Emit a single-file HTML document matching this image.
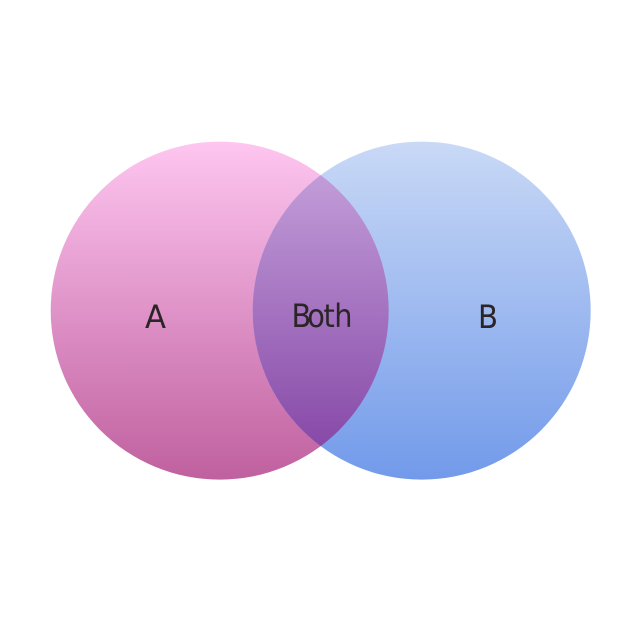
<!DOCTYPE html>
<html>
<head>
<meta charset="utf-8">
<style>
html,body{margin:0;padding:0;background:#fff;width:640px;height:620px;overflow:hidden}
svg{display:block}
text{font-family:"DejaVu Sans",sans-serif;font-size:32px;fill:#2b2528}
</style>
</head>
<body>
<svg width="640" height="620" viewBox="0 0 640 620" xmlns="http://www.w3.org/2000/svg">
<defs>
<linearGradient id="a" x1="0" y1="142" x2="0" y2="480" gradientUnits="userSpaceOnUse">
<stop offset="0" stop-color="#fec6f0"/><stop offset="1" stop-color="#c0609f"/>
</linearGradient>
<linearGradient id="b" x1="0" y1="142" x2="0" y2="480" gradientUnits="userSpaceOnUse">
<stop offset="0" stop-color="#c9d9f6"/><stop offset="1" stop-color="#729aea"/>
</linearGradient>
<linearGradient id="c" x1="0" y1="175" x2="0" y2="445" gradientUnits="userSpaceOnUse">
<stop offset="0" stop-color="#c29cd8"/><stop offset="1" stop-color="#874aa8"/>
</linearGradient>
<clipPath id="ca"><circle cx="219.7" cy="310.6" r="169"/></clipPath>
</defs>
<circle cx="219.7" cy="310.6" r="169" fill="url(#a)"/>
<circle cx="421.7" cy="310.6" r="169" fill="url(#b)"/>
<circle cx="421.7" cy="310.6" r="169" fill="url(#c)" clip-path="url(#ca)"/>
<text x="145" y="328" textLength="21" lengthAdjust="spacingAndGlyphs">A</text>
<text transform="translate(291.5,327) scale(.9,1)" x="0 17.5 35.5 47.5" y="0">Both</text>
<text x="478" y="328" textLength="20" lengthAdjust="spacingAndGlyphs">B</text>
</svg>
</body>
</html>
